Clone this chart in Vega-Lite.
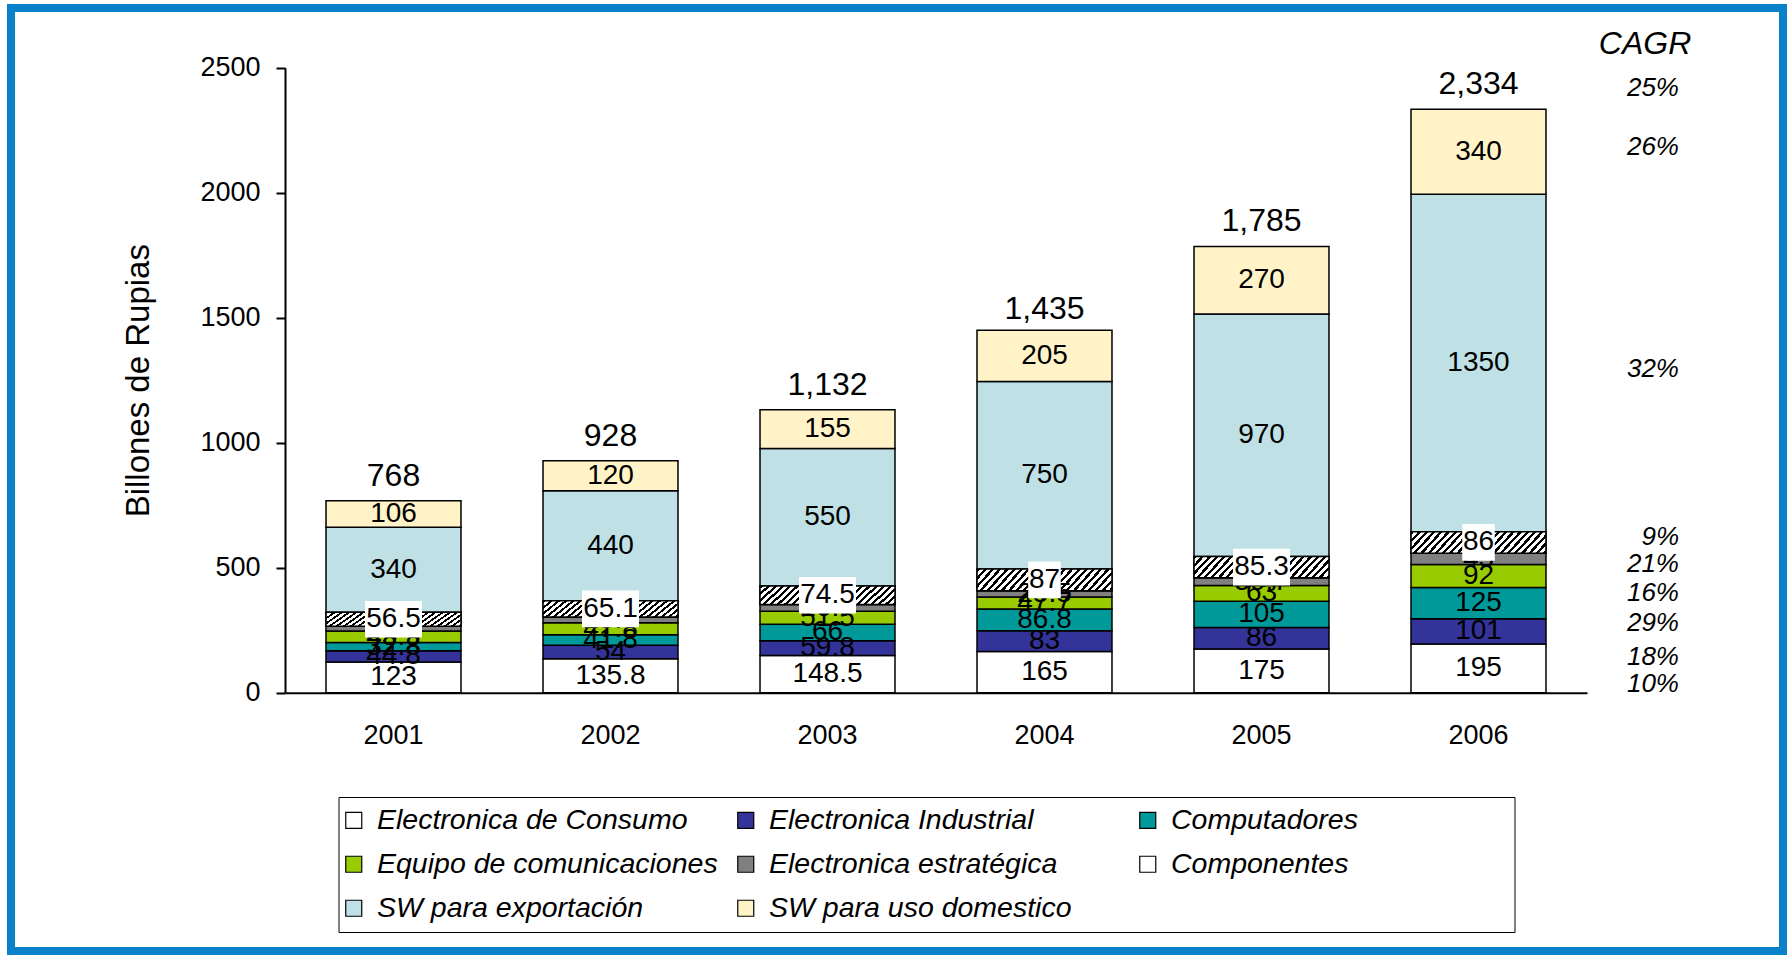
{
  "$schema": "https://vega.github.io/schema/vega-lite/v6.json",
  "width": 1772,
  "height": 943,
  "autosize": {"type": "none"},
  "padding": {"left": 11, "top": 8, "right": 4, "bottom": 4},
  "background": "white",
  "config": {
    "view": {"stroke": "#0a82c9", "strokeWidth": 8, "fill": "white"},
    "font": "Liberation Sans"
  },
  "datasets": {
    "produccion": [
      {"anio": "2001", "categoria": "Electronica de Consumo", "valor": 123},
      {"anio": "2001", "categoria": "Electronica Industrial", "valor": 44.8},
      {"anio": "2001", "categoria": "Computadores", "valor": 32.8},
      {"anio": "2001", "categoria": "Equipo de comunicaciones", "valor": 45.9},
      {"anio": "2001", "categoria": "Electronica estratégica", "valor": 19},
      {"anio": "2001", "categoria": "Componentes", "valor": 56.5},
      {"anio": "2001", "categoria": "SW para exportación", "valor": 340},
      {"anio": "2001", "categoria": "SW para uso domestico", "valor": 106},
      {"anio": "2002", "categoria": "Electronica de Consumo", "valor": 135.8},
      {"anio": "2002", "categoria": "Electronica Industrial", "valor": 54},
      {"anio": "2002", "categoria": "Computadores", "valor": 41.8},
      {"anio": "2002", "categoria": "Equipo de comunicaciones", "valor": 47.8},
      {"anio": "2002", "categoria": "Electronica estratégica", "valor": 23.5},
      {"anio": "2002", "categoria": "Componentes", "valor": 65.1},
      {"anio": "2002", "categoria": "SW para exportación", "valor": 440},
      {"anio": "2002", "categoria": "SW para uso domestico", "valor": 120},
      {"anio": "2003", "categoria": "Electronica de Consumo", "valor": 148.5},
      {"anio": "2003", "categoria": "Electronica Industrial", "valor": 59.8},
      {"anio": "2003", "categoria": "Computadores", "valor": 66},
      {"anio": "2003", "categoria": "Equipo de comunicaciones", "valor": 51.5},
      {"anio": "2003", "categoria": "Electronica estratégica", "valor": 26.7},
      {"anio": "2003", "categoria": "Componentes", "valor": 74.5},
      {"anio": "2003", "categoria": "SW para exportación", "valor": 550},
      {"anio": "2003", "categoria": "SW para uso domestico", "valor": 155},
      {"anio": "2004", "categoria": "Electronica de Consumo", "valor": 165},
      {"anio": "2004", "categoria": "Electronica Industrial", "valor": 83},
      {"anio": "2004", "categoria": "Computadores", "valor": 86.8},
      {"anio": "2004", "categoria": "Equipo de comunicaciones", "valor": 47.7},
      {"anio": "2004", "categoria": "Electronica estratégica", "valor": 25.5},
      {"anio": "2004", "categoria": "Componentes", "valor": 87},
      {"anio": "2004", "categoria": "SW para exportación", "valor": 750},
      {"anio": "2004", "categoria": "SW para uso domestico", "valor": 205},
      {"anio": "2005", "categoria": "Electronica de Consumo", "valor": 175},
      {"anio": "2005", "categoria": "Electronica Industrial", "valor": 86},
      {"anio": "2005", "categoria": "Computadores", "valor": 105},
      {"anio": "2005", "categoria": "Equipo de comunicaciones", "valor": 63},
      {"anio": "2005", "categoria": "Electronica estratégica", "valor": 30.7},
      {"anio": "2005", "categoria": "Componentes", "valor": 85.3},
      {"anio": "2005", "categoria": "SW para exportación", "valor": 970},
      {"anio": "2005", "categoria": "SW para uso domestico", "valor": 270},
      {"anio": "2006", "categoria": "Electronica de Consumo", "valor": 195},
      {"anio": "2006", "categoria": "Electronica Industrial", "valor": 101},
      {"anio": "2006", "categoria": "Computadores", "valor": 125},
      {"anio": "2006", "categoria": "Equipo de comunicaciones", "valor": 92},
      {"anio": "2006", "categoria": "Electronica estratégica", "valor": 45},
      {"anio": "2006", "categoria": "Componentes", "valor": 86},
      {"anio": "2006", "categoria": "SW para exportación", "valor": 1350},
      {"anio": "2006", "categoria": "SW para uso domestico", "valor": 340}
    ],
    "totales": [
      {"anio": "2001", "total": 768},
      {"anio": "2002", "total": 928},
      {"anio": "2003", "total": 1132},
      {"anio": "2004", "total": 1435},
      {"anio": "2005", "total": 1785},
      {"anio": "2006", "total": 2334}
    ],
    "cagr": [
      {"anio": "2006", "texto": "25%", "nivel": 2418},
      {"anio": "2006", "texto": "26%", "nivel": 2183},
      {"anio": "2006", "texto": "32%", "nivel": 1296},
      {"anio": "2006", "texto": "9%", "nivel": 623},
      {"anio": "2006", "texto": "21%", "nivel": 513},
      {"anio": "2006", "texto": "16%", "nivel": 399},
      {"anio": "2006", "texto": "29%", "nivel": 279},
      {"anio": "2006", "texto": "18%", "nivel": 143},
      {"anio": "2006", "texto": "10%", "nivel": 35}
    ]
  },
  "data": {"name": "produccion"},
  "transform": [
    {"calculate": "indexof(['Electronica de Consumo','Electronica Industrial','Computadores','Equipo de comunicaciones','Electronica estratégica','Componentes','SW para exportación','SW para uso domestico'], datum.categoria)", "as": "orden"},
    {"stack": "valor", "groupby": ["anio"], "sort": [{"field": "orden", "order": "ascending"}], "as": ["y0", "y1"]},
    {"calculate": "(datum.y0 + datum.y1) / 2", "as": "medio"}
  ],
  "layer": [
    {
      "mark": {"type": "bar", "stroke": "black", "strokeWidth": 1.5},
      "encoding": {
        "x": {
          "field": "anio", "type": "nominal",
          "scale": {"domain": ["2001", "2002", "2003", "2004", "2005", "2006"], "range": [274, 1576], "paddingInner": 0.378, "paddingOuter": 0.189},
          "axis": {"offset": -258.3, "domainColor": "black", "domainWidth": 2, "ticks": false, "tickSize": 0, "labelFontSize": 27, "labelPadding": 30, "labelAngle": 0, "labelColor": "black", "title": null}
        },
        "y": {
          "field": "y0", "type": "quantitative",
          "scale": {"domain": [0, 2500], "range": [684.7, 59.7], "nice": false},
          "axis": {"values": [0, 500, 1000, 1500, 2000, 2500], "format": "d", "offset": -274, "domainColor": "black", "domainWidth": 2, "tickColor": "black", "tickWidth": 2, "tickSize": 9, "labelFontSize": 27, "labelPadding": 16, "labelColor": "black", "grid": false, "title": "Billones de Rupias", "titleFontSize": 33, "titleFontWeight": "normal", "titleColor": "black", "titlePadding": 44}
        },
        "y2": {"field": "y1"},
        "color": {
          "field": "categoria", "type": "nominal",
          "scale": {
            "domain": ["Electronica de Consumo", "Electronica Industrial", "Computadores", "Equipo de comunicaciones", "Electronica estratégica", "Componentes", "SW para exportación", "SW para uso domestico"],
            "range": ["#ffffff", "#333399", "#009999", "#99cc00", "#808080", "#ffffff", "#bfe1e5", "#fff3c7"]
          },
          "legend": {
            "orient": "none", "legendX": 327.5, "legendY": 789, "direction": "horizontal", "columns": 3, "title": null,
            "gridAlign": "each", "columnPadding": 16, "rowPadding": 15, "padding": 9,
            "strokeColor": "black", "fillColor": "white",
            "symbolType": "square", "symbolSize": 256, "symbolStrokeColor": "black", "symbolStrokeWidth": 1.2, "symbolOffset": -8,
            "labelFont": "Liberation Sans", "labelFontSize": 28.5, "labelFontStyle": "italic", "labelColor": "black", "labelOffset": 9, "labelLimit": 900,
            "labelExpr": "datum.label == 'Electronica estratégica' ? datum.label + '\u2800\u2800\u2800' : (datum.label == 'Computadores' ? datum.label + '\u2800\u2800\u2800\u2800\u2800\u2800\u2800' : datum.label)"
          }
        }
      }
    },
    {
      "transform": [{"filter": "datum.categoria == 'Componentes'"}],
      "mark": {"type": "bar", "stroke": "black", "strokeWidth": 1.5,
        "fill": {"gradient": "linear", "x1": 0, "y1": 0, "x2": 1.15, "y2": 0.17, "stops": [
          {"offset": 0, "color": "#000"}, {"offset": 0.02, "color": "#000"}, {"offset": 0.02, "color": "#fff"}, {"offset": 0.04545, "color": "#fff"},
          {"offset": 0.04545, "color": "#000"}, {"offset": 0.06545, "color": "#000"}, {"offset": 0.06545, "color": "#fff"}, {"offset": 0.09091, "color": "#fff"},
          {"offset": 0.09091, "color": "#000"}, {"offset": 0.11091, "color": "#000"}, {"offset": 0.11091, "color": "#fff"}, {"offset": 0.13636, "color": "#fff"},
          {"offset": 0.13636, "color": "#000"}, {"offset": 0.15636, "color": "#000"}, {"offset": 0.15636, "color": "#fff"}, {"offset": 0.18182, "color": "#fff"},
          {"offset": 0.18182, "color": "#000"}, {"offset": 0.20182, "color": "#000"}, {"offset": 0.20182, "color": "#fff"}, {"offset": 0.22727, "color": "#fff"},
          {"offset": 0.22727, "color": "#000"}, {"offset": 0.24727, "color": "#000"}, {"offset": 0.24727, "color": "#fff"}, {"offset": 0.27273, "color": "#fff"},
          {"offset": 0.27273, "color": "#000"}, {"offset": 0.29273, "color": "#000"}, {"offset": 0.29273, "color": "#fff"}, {"offset": 0.31818, "color": "#fff"},
          {"offset": 0.31818, "color": "#000"}, {"offset": 0.33818, "color": "#000"}, {"offset": 0.33818, "color": "#fff"}, {"offset": 0.36364, "color": "#fff"},
          {"offset": 0.36364, "color": "#000"}, {"offset": 0.38364, "color": "#000"}, {"offset": 0.38364, "color": "#fff"}, {"offset": 0.40909, "color": "#fff"},
          {"offset": 0.40909, "color": "#000"}, {"offset": 0.42909, "color": "#000"}, {"offset": 0.42909, "color": "#fff"}, {"offset": 0.45455, "color": "#fff"},
          {"offset": 0.45455, "color": "#000"}, {"offset": 0.47455, "color": "#000"}, {"offset": 0.47455, "color": "#fff"}, {"offset": 0.5, "color": "#fff"},
          {"offset": 0.5, "color": "#000"}, {"offset": 0.52, "color": "#000"}, {"offset": 0.52, "color": "#fff"}, {"offset": 0.54545, "color": "#fff"},
          {"offset": 0.54545, "color": "#000"}, {"offset": 0.56545, "color": "#000"}, {"offset": 0.56545, "color": "#fff"}, {"offset": 0.59091, "color": "#fff"},
          {"offset": 0.59091, "color": "#000"}, {"offset": 0.61091, "color": "#000"}, {"offset": 0.61091, "color": "#fff"}, {"offset": 0.63636, "color": "#fff"},
          {"offset": 0.63636, "color": "#000"}, {"offset": 0.65636, "color": "#000"}, {"offset": 0.65636, "color": "#fff"}, {"offset": 0.68182, "color": "#fff"},
          {"offset": 0.68182, "color": "#000"}, {"offset": 0.70182, "color": "#000"}, {"offset": 0.70182, "color": "#fff"}, {"offset": 0.72727, "color": "#fff"},
          {"offset": 0.72727, "color": "#000"}, {"offset": 0.74727, "color": "#000"}, {"offset": 0.74727, "color": "#fff"}, {"offset": 0.77273, "color": "#fff"},
          {"offset": 0.77273, "color": "#000"}, {"offset": 0.79273, "color": "#000"}, {"offset": 0.79273, "color": "#fff"}, {"offset": 0.81818, "color": "#fff"},
          {"offset": 0.81818, "color": "#000"}, {"offset": 0.83818, "color": "#000"}, {"offset": 0.83818, "color": "#fff"}, {"offset": 0.86364, "color": "#fff"},
          {"offset": 0.86364, "color": "#000"}, {"offset": 0.88364, "color": "#000"}, {"offset": 0.88364, "color": "#fff"}, {"offset": 0.90909, "color": "#fff"},
          {"offset": 0.90909, "color": "#000"}, {"offset": 0.92909, "color": "#000"}, {"offset": 0.92909, "color": "#fff"}, {"offset": 0.95455, "color": "#fff"},
          {"offset": 0.95455, "color": "#000"}, {"offset": 0.97455, "color": "#000"}, {"offset": 0.97455, "color": "#fff"}, {"offset": 1, "color": "#fff"}
        ]}},
      "encoding": {
        "x": {"field": "anio", "type": "nominal"},
        "y": {"field": "y0", "type": "quantitative"},
        "y2": {"field": "y1"}
      }
    },
    {
      "transform": [{"filter": "datum.categoria != 'Componentes'"}],
      "mark": {"type": "text", "fontSize": 28, "align": "center", "baseline": "middle", "color": "black"},
      "encoding": {
        "x": {"field": "anio", "type": "nominal"},
        "y": {"field": "medio", "type": "quantitative"},
        "text": {"field": "valor", "type": "quantitative"}
      }
    },
    {
      "transform": [{"filter": "datum.categoria == 'Componentes'"}],
      "mark": {"type": "point", "filled": true, "fill": "white", "opacity": 1, "strokeWidth": 0, "size": 3250},
      "encoding": {
        "x": {"field": "anio", "type": "nominal"},
        "y": {"field": "medio", "type": "quantitative"},
        "shape": {"condition": {"test": "datum.valor % 1 == 0", "value": "M -0.571 -0.643 L 0.571 -0.643 L 0.571 0.643 L -0.571 0.643 Z"}, "value": "M -1 -0.643 L 1 -0.643 L 1 0.643 L -1 0.643 Z"}
      }
    },
    {
      "transform": [{"filter": "datum.categoria == 'Componentes'"}],
      "mark": {"type": "text", "fontSize": 28, "align": "center", "baseline": "middle", "color": "black"},
      "encoding": {
        "x": {"field": "anio", "type": "nominal"},
        "y": {"field": "medio", "type": "quantitative"},
        "text": {"field": "valor", "type": "quantitative"}
      }
    },
    {
      "data": {"name": "totales"},
      "mark": {"type": "text", "fontSize": 32, "align": "center", "baseline": "middle", "dy": -25, "color": "black"},
      "encoding": {
        "x": {"field": "anio", "type": "nominal"},
        "y": {"field": "total", "type": "quantitative"},
        "text": {"field": "total", "type": "quantitative", "format": ",.0f"}
      }
    },
    {
      "data": {"name": "cagr"},
      "mark": {"type": "text", "fontSize": 26, "fontStyle": "italic", "align": "right", "baseline": "middle", "dx": 200.5, "color": "black"},
      "encoding": {
        "x": {"field": "anio", "type": "nominal"},
        "y": {"field": "nivel", "type": "quantitative"},
        "text": {"field": "texto", "type": "nominal"}
      }
    },
    {
      "data": {"values": [{"anio": "2006", "texto": "CAGR", "nivel": 2593}]},
      "mark": {"type": "text", "fontSize": 32, "fontStyle": "italic", "align": "center", "baseline": "middle", "dx": 166.5, "color": "black"},
      "encoding": {
        "x": {"field": "anio", "type": "nominal"},
        "y": {"field": "nivel", "type": "quantitative"},
        "text": {"field": "texto", "type": "nominal"}
      }
    }
  ]
}
